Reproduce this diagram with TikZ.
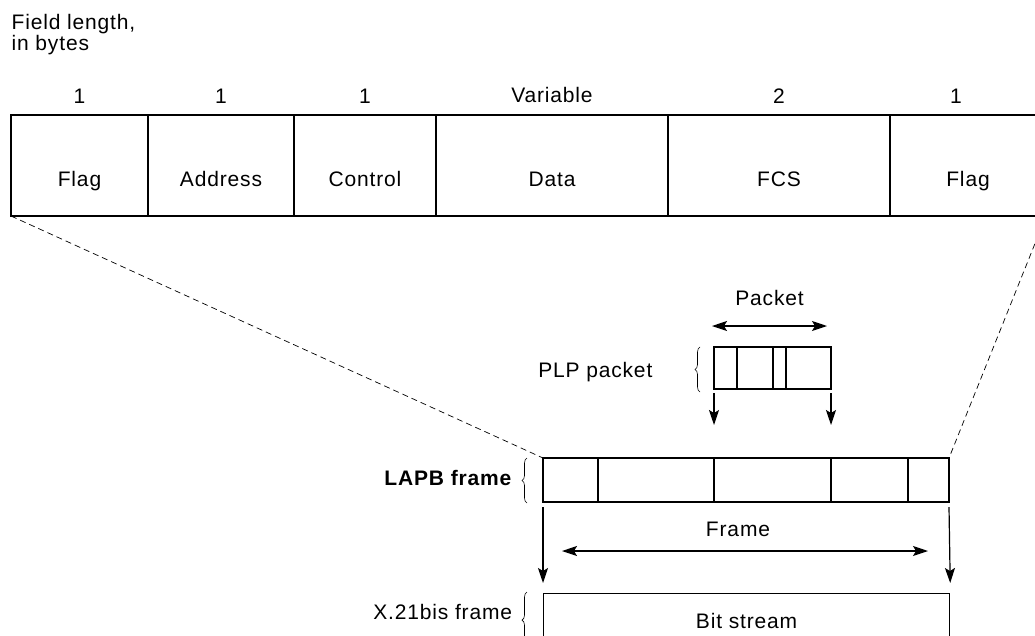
\documentclass[tikz,border=0pt]{standalone}
\usepackage{fontspec}
\setmainfont{Liberation Sans}[LetterSpace=4]
\usetikzlibrary{positioning,arrows.meta,decorations.pathreplacing}
\tikzset{
  cell/.style={draw,minimum height=101pt,inner sep=0pt,outer sep=0pt,text height=41pt,text depth=0pt},
  fld/.style={draw,minimum height=44pt,inner sep=0pt,outer sep=0pt},
  pkt/.style={draw,minimum height=42pt,inner sep=0pt,outer sep=0pt},
  brc/.style={decorate,decoration={brace,amplitude=5pt},line width=0.6pt},
  num/.style={label distance=8pt}
}
\begin{document}
\begin{tikzpicture}[x=1pt,y=-1pt,line width=1.2pt,font=\fontsize{21}{21}\selectfont,
    >={Stealth[length=15pt,width=10pt,inset=3pt]}]
  \useasboundingbox (0,0) rectangle (1035,635);
  \node[anchor=base west,align=left] (head) at (7.7,50) {Field length,\\in bytes};
  \node[cell,minimum width=137pt,anchor=north west,label={[num]above:1}] (T1) at (11,115) {Flag};
  \node[cell,minimum width=146pt,right=0pt of T1,label={[num]above:1}] (T2) {Address};
  \node[cell,minimum width=142pt,right=0pt of T2,label={[num]above:1}] (T3) {Control};
  \node[cell,minimum width=232pt,right=0pt of T3,label={[num]above:Variable}] (T4) {Data};
  \node[cell,minimum width=222pt,right=0pt of T4,label={[num]above:2}] (T5) {FCS};
  \node[cell,minimum width=156pt,right=0pt of T5,label={[num,xshift=-12pt]above:1}] (T6) {Flag};

  \node[fld,minimum width=55pt,anchor=north west] (L1) at (543,458) {};
  \node[fld,minimum width=116pt,right=0pt of L1] (L2) {};
  \node[fld,minimum width=117pt,right=0pt of L2] (L3) {};
  \node[fld,minimum width=77pt,right=0pt of L3] (L4) {};
  \node[fld,minimum width=41pt,right=0pt of L4] (L5) {};

  \node[pkt,minimum width=23pt,anchor=north west] (P1) at (714,347) {};
  \node[pkt,minimum width=36pt,right=0pt of P1] (P2) {};
  \node[pkt,minimum width=13pt,right=0pt of P2] (P3) {};
  \node[pkt,minimum width=45pt,right=0pt of P3] (P4) {};

  \node[draw,minimum width=406pt,minimum height=54pt,anchor=north west] (X) at (543,593) {Bit stream};

  \node[anchor=east] (plp) at ([xshift=-57.7pt,yshift=-4pt]P1.west) {PLP packet};
  \node[anchor=east,font=\fontsize{21}{21}\selectfont\bfseries] (lapb) at ([xshift=-27.7pt,yshift=2pt]L1.west) {LAPB frame};
  \node[anchor=east] (x21) at ([xshift=-27pt,yshift=-19pt]X.north west) {X.21bis frame};

  \draw[brc] ([xshift=-14pt,yshift=-3pt]P1.south west) -- ([xshift=-14pt]P1.north west);
  \draw[brc] ([xshift=-16pt,yshift=-1pt]L1.south west) -- ([xshift=-16pt]L1.north west);
  \draw[brc] ([xshift=-16pt]X.south west) -- ([xshift=-16pt,yshift=1pt]X.north west);

  \draw[dashed,line width=0.7pt,dash pattern=on 6pt off 4pt] (T1.south west) -- (L1.north west);
  \draw[dashed,line width=0.7pt,dash pattern=on 6pt off 4pt] (T6.south east) -- (L5.north east);

  \draw[<->] ([xshift=-2pt,yshift=21pt]P1.north west) -- node[above=16pt]{Packet} ([xshift=-4pt,yshift=21pt]P4.north east);
  \draw[->] ([yshift=-4pt]P1.south west) -- ([yshift=33pt]L3.north west);
  \draw[->] ([yshift=-4pt]P4.south east) -- ([yshift=33pt]L3.north east);
  \draw[->] ([yshift=-5pt]L1.south west) -- ([yshift=10pt]X.north west);
  \draw[->] ([yshift=-5pt]L5.south east) -- ([yshift=10pt]X.north east);
  \draw[<->] ([xshift=19pt,yshift=-49pt]L1.south west) -- node[above=10pt,xshift=-7pt]{Frame} ([xshift=-21pt,yshift=-49pt]L5.south east);
\end{tikzpicture}
\end{document}
